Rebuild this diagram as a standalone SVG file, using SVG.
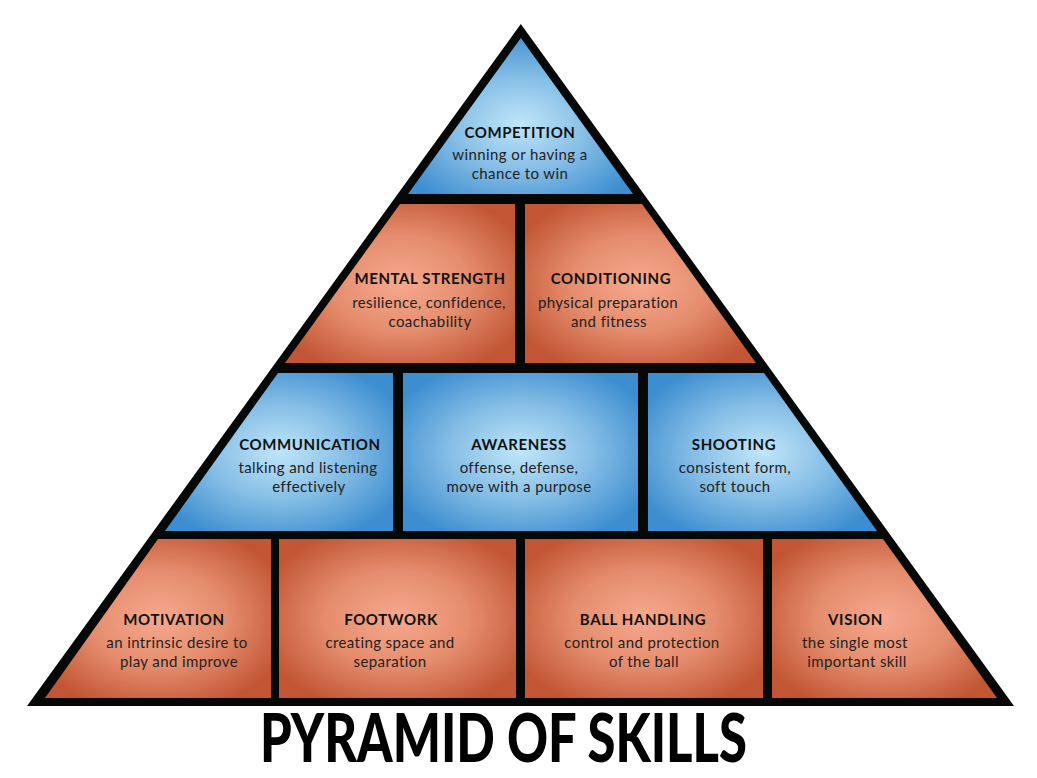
<svg xmlns="http://www.w3.org/2000/svg" width="1037" height="778" viewBox="0 0 1037 778">
<defs>
<radialGradient id="blue" cx="0.5" cy="0.5" r="0.6">
<stop offset="0" stop-color="#c0e6f9"/>
<stop offset="0.5" stop-color="#86bee6"/>
<stop offset="1" stop-color="#3d8ed0"/>
</radialGradient>
<radialGradient id="red" cx="0.5" cy="0.5" r="0.6">
<stop offset="0" stop-color="#f6a88e"/>
<stop offset="0.5" stop-color="#e58d6e"/>
<stop offset="1" stop-color="#c25634"/>
</radialGradient>
<radialGradient id="blueTop" cx="0.5" cy="0.55" r="0.6">
<stop offset="0" stop-color="#c0e6f9"/>
<stop offset="0.5" stop-color="#86bee6"/>
<stop offset="1" stop-color="#3d8ed0"/>
</radialGradient>
</defs>
<style>
.b{fill:url(#blue)}
.r{fill:url(#red)}
.t{font-family:Lato,"Open Sans","Liberation Sans",sans-serif;font-weight:700;font-size:15px;fill:#111;text-anchor:middle;letter-spacing:0.6px}
.s{font-family:Lato,"Open Sans","Liberation Sans",sans-serif;font-weight:400;font-size:15px;fill:#222;text-anchor:middle;letter-spacing:0.4px}
.h{font-family:Lato,"Open Sans","Liberation Sans",sans-serif;font-weight:900;font-size:66px;fill:#000;text-anchor:middle}
</style>
<rect width="1037" height="778" fill="#fff"/>
<polygon id="frame" points="520.8,24 1014,706 27,706" fill="#060807"/>
<g id="competition">
<polygon points="520.8,38 633,194 408,194" fill="url(#blueTop)"/>
<text class="t" x="520" y="138">COMPETITION</text>
<text class="s" x="520" y="160">winning or having a</text>
<text class="s" x="520" y="179">chance to win</text>
</g>
<g id="mental-strength">
<polygon points="400,204 515,204 515,363 285,363" class="r"/>
<text class="t" x="430" y="284">MENTAL STRENGTH</text>
<text class="s" x="429" y="308">resilience, confidence,</text>
<text class="s" x="430" y="327">coachability</text>
</g>
<g id="conditioning">
<polygon points="525,204 642,204 756,363 525,363" class="r"/>
<text class="t" x="611" y="284">CONDITIONING</text>
<text class="s" x="608" y="308">physical preparation</text>
<text class="s" x="609" y="327">and fitness</text>
</g>
<g id="communication">
<polygon points="278,373 393,373 393,531 165,531" class="b"/>
<text class="t" x="310" y="449.5">COMMUNICATION</text>
<text class="s" x="308" y="472.5">talking and listening</text>
<text class="s" x="309" y="491.5">effectively</text>
</g>
<g id="awareness">
<rect x="403" y="373" width="235" height="158" class="b"/>
<text class="t" x="519" y="449.5">AWARENESS</text>
<text class="s" x="519" y="472.5">offense, defense,</text>
<text class="s" x="519" y="491.5">move with a purpose</text>
</g>
<g id="shooting">
<polygon points="648,373 764,373 877,531 648,531" class="b"/>
<text class="t" x="734" y="449.5">SHOOTING</text>
<text class="s" x="735" y="472.5">consistent form,</text>
<text class="s" x="735" y="491.5">soft touch</text>
</g>
<g id="motivation">
<polygon points="158,539 271,539 271,698 45,698" class="r"/>
<text class="t" x="174" y="624.5">MOTIVATION</text>
<text class="s" x="177" y="647.5">an intrinsic desire to</text>
<text class="s" x="179" y="666.5">play and improve</text>
</g>
<g id="footwork">
<rect x="279" y="539" width="237" height="159" class="r"/>
<text class="t" x="391" y="624.5">FOOTWORK</text>
<text class="s" x="390" y="647.5">creating space and</text>
<text class="s" x="390" y="666.5">separation</text>
</g>
<g id="ball-handling">
<rect x="525" y="539" width="238" height="159" class="r"/>
<text class="t" x="643" y="624.5">BALL HANDLING</text>
<text class="s" x="642" y="647.5">control and protection</text>
<text class="s" x="644" y="666.5">of the ball</text>
</g>
<g id="vision">
<polygon points="772,539 883,539 997,698 772,698" class="r"/>
<text class="t" x="855.5" y="624.5">VISION</text>
<text class="s" x="855" y="647.5">the single most</text>
<text class="s" x="857" y="666.5">important skill</text>
</g>
<g id="connectors"></g>
<text id="title" class="h" x="503.5" y="762" textLength="487" lengthAdjust="spacingAndGlyphs">PYRAMID OF SKILLS</text>
</svg>
